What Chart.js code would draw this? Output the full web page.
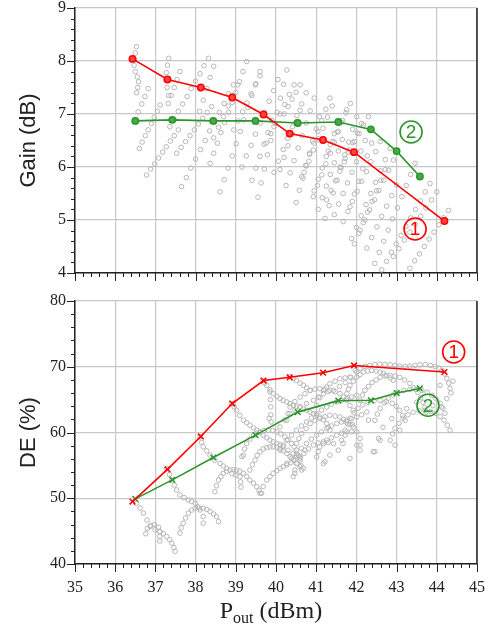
<!DOCTYPE html>
<html>
<head>
<meta charset="utf-8">
<script src="https://cdn.jsdelivr.net/npm/chart.js@4/dist/chart.umd.min.js"></script>
<style>
  body { margin: 0; background: #fff; }
  .box { position: absolute; left: 0; width: 490px; }
</style>
</head>
<body>
<div class="box" style="top:0;height:290px"><canvas id="gainChart" width="490" height="290"></canvas></div>
<div class="box" style="top:290px;height:337px"><canvas id="deChart" width="490" height="337"></canvas></div>
<script>
// matching network (1)
const pout1 = [36.43, 37.30, 38.13, 38.91, 39.69, 40.34, 41.17, 41.94, 44.19];
const gain1 = [8.04, 7.65, 7.50, 7.31, 6.99, 6.63, 6.51, 6.28, 4.98];
const de1 = [49.5, 54.4, 59.4, 64.4, 67.9, 68.4, 69.1, 70.2, 69.2];

// matching network (2)
const pout2 = [36.50, 37.42, 38.44, 39.49, 40.54, 41.55, 42.36, 43.00, 43.58];
const gain2 = [6.87, 6.89, 6.87, 6.87, 6.83, 6.85, 6.71, 6.30, 5.82];
const de2 = [49.9, 52.8, 56.2, 59.6, 63.1, 64.85, 64.9, 66.0, 66.7];

// load-pull sweep, gain vs Pout (each row is one streak of the grey cloud)
const gainCloud = [
  [[36.53,8.27],[36.50,8.15],[36.48,8.03],[36.47,7.92],[36.50,7.80],[36.55,7.70],[36.58,7.61],[36.56,7.50],[36.53,7.40]],
  [[36.49,6.89],[36.57,7.04],[36.66,7.19],[36.74,7.33],[36.82,7.48]],
  [[36.60,6.35],[36.67,6.47],[36.75,6.59],[36.82,6.70],[36.90,6.82],[36.97,6.94],[37.05,7.05],[37.12,7.17]],
  [[36.78,5.85],[36.88,5.96],[36.98,6.06],[37.08,6.17],[37.18,6.28],[37.27,6.38],[37.37,6.49],[37.47,6.59],[37.57,6.70]],
  [[37.33,8.05],[37.30,7.92],[37.27,7.78],[37.26,7.64],[37.29,7.50],[37.33,7.35]],
  [[37.32,7.20],[37.39,7.35],[37.47,7.50],[37.54,7.65],[37.61,7.80]],
  [[37.36,6.76],[37.47,6.90],[37.57,7.05],[37.68,7.19],[37.79,7.33],[37.89,7.48],[38.00,7.62],[38.11,7.76],[38.21,7.91],[38.32,8.05]],
  [[37.53,6.26],[37.64,6.37],[37.75,6.48],[37.86,6.59],[37.97,6.70],[38.07,6.81],[38.18,6.92],[38.29,7.03],[38.40,7.14]],
  [[37.65,5.63],[37.77,5.80],[37.88,5.98],[38.00,6.15],[38.12,6.33],[38.24,6.50],[38.35,6.68],[38.47,6.85],[38.59,7.03],[38.71,7.20],[38.82,7.38],[38.94,7.55]],
  [[38.10,7.05],[38.19,7.26],[38.28,7.48],[38.36,7.69],[38.45,7.90]],
  [[38.36,6.07],[38.45,6.26],[38.54,6.45],[38.63,6.65],[38.72,6.84],[38.82,7.03],[38.91,7.22],[39.00,7.41],[39.09,7.61],[39.18,7.80],[39.27,7.99]],
  [[38.61,5.53],[38.71,5.76],[38.81,5.98],[38.91,6.21],[39.01,6.44],[39.11,6.67],[39.20,6.89],[39.30,7.12],[39.40,7.35],[39.50,7.57],[39.60,7.80]],
  [[38.45,6.55],[38.57,6.75],[38.69,6.95],[38.81,7.15],[38.93,7.35],[39.05,7.55]],
  [[38.95,6.70],[39.06,6.87],[39.17,7.04],[39.28,7.21],[39.38,7.38],[39.49,7.55],[39.60,7.72]],
  [[39.15,6.00],[39.26,6.21],[39.38,6.41],[39.49,6.62],[39.60,6.83],[39.71,7.03],[39.83,7.24],[39.94,7.44],[40.05,7.65]],
  [[39.40,5.75],[39.50,5.98],[39.60,6.20],[39.70,6.43],[39.80,6.65],[39.90,6.88]],
  [[39.55,5.43],[39.63,5.70],[39.71,5.96],[39.79,6.23],[39.87,6.50],[39.95,6.76],[40.03,7.03],[40.11,7.30],[40.19,7.56],[40.27,7.83]],
  [[39.75,6.45],[39.87,6.63],[39.98,6.82],[40.10,7.00],[40.22,7.18],[40.33,7.37],[40.45,7.55]],
  [[39.95,5.90],[40.06,6.11],[40.18,6.33],[40.29,6.54],[40.41,6.76],[40.52,6.97],[40.64,7.19],[40.75,7.40]],
  [[40.10,5.95],[40.20,6.18],[40.30,6.40],[40.40,6.62],[40.50,6.85],[40.60,7.07]],
  [[40.50,5.33],[40.58,5.56],[40.67,5.79],[40.75,6.02],[40.83,6.26],[40.91,6.49],[41.00,6.72],[41.08,6.95]],
  [[40.25,5.65],[40.35,5.89],[40.45,6.12],[40.55,6.36],[40.65,6.59],[40.75,6.83],[40.85,7.06],[40.95,7.30]],
  [[40.20,7.00],[40.30,7.14],[40.40,7.28],[40.50,7.41],[40.60,7.55]],
  [[40.70,5.90],[40.82,6.11],[40.93,6.32],[41.05,6.53],[41.17,6.73],[41.28,6.94],[41.40,7.15]],
  [[40.95,5.55],[41.05,5.77],[41.15,5.98],[41.25,6.20],[41.35,6.42],[41.45,6.63],[41.55,6.85]],
  [[41.05,5.20],[41.15,5.42],[41.25,5.64],[41.35,5.86],[41.45,6.08],[41.55,6.30],[41.65,6.52]],
  [[41.22,5.03],[41.32,5.27],[41.42,5.51],[41.52,5.75],[41.62,5.99],[41.71,6.23],[41.81,6.47],[41.91,6.71],[42.01,6.95]],
  [[40.93,5.44],[41.03,5.65],[41.14,5.85],[41.24,6.06],[41.35,6.26],[41.45,6.47],[41.55,6.67],[41.66,6.88],[41.76,7.08]],
  [[40.64,5.82],[40.74,6.03],[40.84,6.24],[40.94,6.45],[41.04,6.67],[41.14,6.88],[41.24,7.09],[41.34,7.30]],
  [[41.26,5.38],[41.37,5.56],[41.48,5.74],[41.59,5.92],[41.70,6.10],[41.80,6.28],[41.91,6.46],[42.02,6.64],[42.13,6.82]],
  [[41.45,5.10],[41.56,5.30],[41.67,5.50],[41.78,5.70],[41.89,5.90],[42.00,6.10],[42.11,6.30],[42.22,6.50]],
  [[41.30,6.30],[41.41,6.48],[41.52,6.66],[41.63,6.84],[41.74,7.02],[41.85,7.20]],
  [[41.60,6.00],[41.72,6.16],[41.83,6.32],[41.95,6.48],[42.07,6.63],[42.18,6.79],[42.30,6.95]],
  [[41.67,4.97],[41.79,5.16],[41.90,5.35],[42.02,5.54],[42.13,5.73],[42.25,5.91],[42.36,6.10],[42.48,6.29],[42.59,6.48]],
  [[41.88,4.65],[42.00,4.86],[42.12,5.08],[42.24,5.29],[42.36,5.50],[42.48,5.71],[42.60,5.93],[42.72,6.14],[42.84,6.35]],
  [[41.95,4.55],[42.06,4.75],[42.17,4.95],[42.28,5.15],[42.39,5.35],[42.50,5.55],[42.61,5.75],[42.72,5.95]],
  [[42.09,4.81],[42.21,5.00],[42.33,5.19],[42.45,5.38],[42.56,5.56],[42.68,5.75],[42.80,5.94],[42.92,6.13]],
  [[41.84,5.25],[41.95,5.49],[42.06,5.73],[42.16,5.97],[42.27,6.21],[42.38,6.45]],
  [[42.46,4.18],[42.57,4.39],[42.68,4.60],[42.79,4.81],[42.90,5.02],[43.02,5.23],[43.13,5.44],[43.24,5.65],[43.35,5.86],[43.46,6.07]],
  [[42.63,4.06],[42.75,4.22],[42.87,4.39],[42.99,4.55],[43.11,4.71],[43.23,4.88],[43.35,5.04],[43.47,5.20],[43.59,5.36],[43.71,5.53],[43.83,5.69]],
  [[42.92,4.31],[43.06,4.46],[43.19,4.62],[43.33,4.77],[43.46,4.92],[43.60,5.07],[43.73,5.23],[43.87,5.38],[44.00,5.53]],
  [[43.33,4.09],[43.45,4.23],[43.57,4.36],[43.69,4.50],[43.81,4.64],[43.93,4.77],[44.05,4.91],[44.17,5.04],[44.29,5.18]],
  [[42.26,4.47],[42.38,4.67],[42.51,4.87],[42.63,5.07],[42.75,5.26],[42.88,5.46],[43.00,5.66]]
];

// load-pull sweep, drain efficiency vs Pout
const deCloud = [
  [[36.53,49.24],[36.62,48.5],[36.70,47.73],[36.79,46.7],[36.87,45.70],[36.99,45.20],[37.11,44.94],[37.20,44.6],[37.28,44.18],[37.35,43.7],[37.41,43.18],[37.46,42.5],[37.49,41.91]],
  [[36.76,44.6],[36.80,45.4],[36.88,45.9],[36.98,46.0],[37.08,45.6],[37.11,44.9],[37.11,44.2],[37.11,43.5]],
  [[37.28,54.55],[37.35,53.6],[37.41,52.77],[37.47,52.0],[37.53,51.26],[37.61,50.50],[37.71,50.1],[37.82,49.74],[37.90,49.5],[37.99,49.24],[38.05,48.7],[38.11,48.23],[38.19,47.21],[38.19,46.21]],
  [[37.61,44.70],[37.64,45.5],[37.69,46.21],[37.75,47.0],[37.82,47.73],[37.90,48.2],[37.99,48.48],[38.09,48.55],[38.19,48.48],[38.28,48.3],[38.36,47.97],[38.45,47.6],[38.52,47.21],[38.57,46.45]],
  [[38.11,59.33],[38.15,58.5],[38.19,57.82],[38.28,57.2],[38.36,56.56],[38.48,55.80],[38.61,55.30],[38.69,54.9],[38.77,54.55],[38.90,53.79],[39.00,53.5],[39.10,53.27],[39.12,52.5],[39.13,51.7]],
  [[38.48,51.00],[38.52,51.9],[38.57,52.77],[38.63,53.3],[38.69,53.79],[38.77,54.1],[38.86,54.29],[38.94,54.35],[39.02,54.29],[39.10,54.1],[39.19,53.79],[39.27,53.3],[39.35,52.77],[39.44,52.3],[39.52,51.76],[39.58,51.2],[39.64,50.76]],
  [[38.90,64.39],[38.96,63.9],[39.02,63.38],[39.10,62.6],[39.19,61.86],[39.27,61.5],[39.35,61.11],[39.44,60.7],[39.52,60.35],[39.60,60.0],[39.68,59.59],[39.77,59.2],[39.85,58.83],[39.93,58.6],[40.02,58.33],[40.10,58.1],[40.18,57.82],[40.30,57.3],[40.43,56.82],[40.51,56.5],[40.60,56.30]],
  [[39.19,56.56],[39.22,57.5],[39.27,58.33],[39.35,59.0],[39.44,59.59],[39.52,59.9],[39.60,60.09],[39.70,60.3],[39.81,60.35],[39.92,60.3],[40.02,60.09],[40.12,59.8],[40.22,59.33],[40.30,58.9],[40.39,58.33],[40.45,57.8],[40.51,57.32],[40.56,56.5],[40.60,55.80],[40.62,55.0],[40.64,54.29]],
  [[39.35,54.29],[39.41,55.1],[39.48,55.80],[39.53,56.5],[39.60,57.06],[39.68,57.5],[39.77,57.73],[39.85,57.8],[39.93,57.82],[40.02,57.7],[40.10,57.58],[40.18,57.2],[40.27,56.82],[40.35,56.3],[40.43,55.80],[40.51,55.3],[40.60,54.79]],
  [[39.60,50.76],[39.68,51.8],[39.77,52.77],[39.85,53.3],[39.93,53.79],[40.02,54.2],[40.10,54.55],[40.18,54.8],[40.27,55.05],[40.37,55.4],[40.47,55.80]],
  [[39.68,67.92],[39.72,67.5],[39.77,67.17],[39.85,66.5],[39.93,65.91],[40.02,65.5],[40.10,65.15],[40.18,64.9],[40.27,64.64],[40.35,64.4],[40.43,64.14],[40.51,64.0],[40.60,63.88],[40.68,63.6],[40.76,63.38],[40.85,63.1],[40.93,62.88],[41.01,62.6],[41.09,62.36],[41.18,61.9],[41.26,61.36],[41.30,60.8],[41.34,60.35]],
  [[39.85,66.2],[39.86,65.0],[39.87,63.9],[39.87,62.7],[39.88,61.6]],
  [[40.35,68.53],[40.43,68.2],[40.51,67.92],[40.60,67.5],[40.68,67.17],[40.76,66.8],[40.85,66.41]],
  [[40.27,61.86],[40.30,62.9],[40.35,63.88],[40.47,64.7],[40.60,65.39],[40.72,65.9],[40.85,66.41],[40.97,66.6],[41.09,66.67],[41.22,66.6],[41.34,66.41],[41.47,66.2],[41.59,65.91],[41.68,65.4],[41.76,64.89],[41.84,64.1],[41.92,63.38]],
  [[40.51,58.33],[40.57,59.1],[40.64,59.85],[40.75,60.6],[40.85,61.36],[40.97,61.8],[41.09,62.12],[41.22,62.4],[41.34,62.62],[41.47,62.5],[41.59,62.36],[41.68,62.0],[41.76,61.61],[41.84,61.2],[41.92,60.85]],
  [[41.01,56.30],[41.05,57.1],[41.09,57.82],[41.18,58.3],[41.26,58.83],[41.38,59.2],[41.51,59.59],[41.63,59.9],[41.76,60.09],[41.88,60.1],[42.01,60.09]],
  [[41.01,64.14],[41.09,65.3],[41.18,66.41],[41.26,66.9],[41.34,67.42],[41.47,67.8],[41.59,68.18],[41.72,68.3],[41.84,68.42]],
  [[40.10,60.85],[40.22,61.9],[40.35,62.88],[40.47,63.4],[40.60,63.88],[40.76,64.4],[40.93,64.89],[41.05,65.4],[41.18,65.91],[41.30,66.2],[41.43,66.41],[41.58,67.0],[41.72,67.6],[41.86,68.4],[42.01,69.19]],
  [[40.10,57.32],[40.18,58.1],[40.27,58.83],[40.39,59.6],[40.51,60.35],[40.63,61.0],[40.76,61.61],[40.88,62.2],[41.01,62.88],[41.13,63.4],[41.26,63.88],[41.38,64.3],[41.51,64.64],[41.63,64.9],[41.76,65.15],[41.88,65.4],[42.01,65.65]],
  [[40.27,55.30],[40.39,56.1],[40.51,56.82],[40.63,57.6],[40.76,58.33],[40.88,59.0],[41.01,59.59],[41.13,60.1],[41.26,60.61],[41.38,61.0],[41.51,61.36],[41.63,61.6],[41.76,61.86],[41.88,62.1],[42.01,62.36],[42.13,62.7],[42.26,63.12]],
  [[40.43,53.3],[40.47,54.3],[40.52,55.3],[40.60,56.1],[40.69,56.8],[40.81,57.5],[40.93,58.1],[41.05,58.4],[41.18,58.6],[41.30,58.5],[41.43,58.3]],
  [[42.09,64.89],[42.15,65.7],[42.21,66.41],[42.30,67.0],[42.39,67.62],[42.49,68.0],[42.59,68.38],[42.71,68.6],[42.84,68.68],[42.96,68.6],[43.08,68.38],[43.20,68.0],[43.33,67.47],[43.43,66.8],[43.53,66.11],[43.60,65.3],[43.66,64.59],[43.70,63.8],[43.73,63.08]],
  [[42.46,61.86],[42.52,62.8],[42.59,63.68],[42.69,64.5],[42.79,65.20],[42.91,65.7],[43.03,66.11],[43.18,66.4],[43.33,66.56],[43.48,66.55],[43.63,66.41],[43.76,66.1],[43.88,65.65],[43.98,65.1],[44.08,64.44],[44.15,63.7],[44.20,62.93]],
  [[41.72,60.35],[41.78,61.3],[41.84,62.17],[41.94,63.0],[42.04,63.68],[42.16,64.2],[42.29,64.59],[42.44,64.8],[42.59,64.89],[42.74,64.7],[42.89,64.44],[42.99,64.0],[43.08,63.38],[43.15,62.6],[43.21,61.86]],
  [[42.84,58.83],[42.90,59.8],[42.96,60.65],[43.06,61.4],[43.16,62.17],[43.28,62.7],[43.41,63.08],[43.56,63.3],[43.71,63.38],[43.85,63.2],[43.98,62.93],[44.08,62.4],[44.18,61.86],[44.26,61.1],[44.33,60.35]],
  [[41.97,69.44],[42.09,69.8],[42.21,70.05],[42.33,70.2],[42.46,70.35],[42.58,70.4],[42.71,70.35],[42.84,70.3],[42.96,70.20],[43.08,70.1],[43.21,70.05],[43.33,70.1],[43.46,70.20],[43.58,70.3],[43.71,70.35],[43.84,70.2],[43.96,70.05],[44.05,69.8],[44.13,69.44],[44.20,68.9],[44.25,68.23],[44.30,67.5],[44.33,66.71]],
  [[41.76,65.91],[41.80,66.6],[41.84,67.17],[41.92,67.8],[42.01,68.43],[42.09,68.8],[42.17,69.19],[42.28,69.35],[42.38,69.44],[42.49,69.35],[42.59,69.19],[42.67,69.0],[42.75,68.69],[42.84,68.3],[42.92,67.93]],
  [[41.84,56.06],[42.42,57.06],[42.09,58.08],[42.59,58.83],[43.08,60.35],[42.66,60.80],[42.88,62.12],[43.25,63.64],[44.12,63.88],[44.25,65.15],[44.08,67.17],[41.67,58.33],[41.72,59.59],[42.09,59.09],[40.72,57.32],[41.18,55.30],[41.34,56.56],[41.63,58.83],[40.47,53.79],[40.68,54.55],[42.09,57.32],[42.55,59.09],[42.96,58.08],[42.01,58.08],[41.22,55.58],[42.46,57.1],[41.55,57.3],[41.90,61.2],[42.30,61.9],[43.50,64.6],[43.90,64.1],[44.35,66.0],[44.40,67.8],[39.83,62.15],[39.15,56.33]]
];

const toXY = (xs, ys) => xs.map((x, i) => ({ x: x, y: ys[i] }));
const cloudXY = (rows) => rows.flat().map((p) => ({ x: p[0], y: p[1] }));

const RED = "rgb(255,0,0)";
const GREEN = "rgb(44,150,44)";
const GREY = "rgb(182,182,182)";
const GRID = "rgb(200,200,200)";
const INK = "#222";
const SERIF = "'Liberation Serif', 'Times New Roman', serif";
const SANS = "'Liberation Sans', Arial, sans-serif";

// frame, minor ticks, axis titles and the circled series numbers
const decorPlugin = {
  id: "decor",
  afterDraw(chart, args, opts) {
    const { ctx, chartArea: a, scales } = chart;
    const x = scales.x;
    const y = scales.y;
    ctx.save();
    ctx.strokeStyle = INK;
    ctx.lineWidth = 1.5;
    ctx.beginPath();
    ctx.moveTo(a.right, a.top);
    ctx.lineTo(a.right, a.bottom);
    ctx.stroke();

    ctx.lineWidth = 1;
    ctx.beginPath();
    const nx = Math.round((x.max - x.min) / opts.xMinor);
    for (let i = 0; i <= nx; i++) {
      const v = x.min + i * opts.xMinor;
      const major = i % Math.round(opts.xMajor / opts.xMinor) === 0;
      const px = Math.round(x.getPixelForValue(v)) + 0.5;
      ctx.moveTo(px, a.bottom);
      ctx.lineTo(px, a.bottom + (major ? 8 : 4));
    }
    const ny = Math.round((y.max - y.min) / opts.yMinor);
    for (let i = 0; i <= ny; i++) {
      const v = y.min + i * opts.yMinor;
      const major = i % Math.round(opts.yMajor / opts.yMinor) === 0;
      const py = Math.round(y.getPixelForValue(v)) + 0.5;
      ctx.moveTo(a.left, py);
      ctx.lineTo(a.left - (major ? 8 : 4), py);
    }
    ctx.stroke();

    // y title
    ctx.fillStyle = INK;
    ctx.font = "22px " + SANS;
    ctx.textAlign = "center";
    ctx.textBaseline = "middle";
    ctx.save();
    ctx.translate(29, (a.top + a.bottom) / 2);
    ctx.rotate(-Math.PI / 2);
    ctx.fillText(opts.yTitle, 0, 0);
    ctx.restore();

    // x title with subscript
    if (opts.xTitle) {
      const big = "24px " + SERIF;
      const small = "16px " + SERIF;
      ctx.textAlign = "left";
      ctx.textBaseline = "alphabetic";
      ctx.font = big;
      const wP = ctx.measureText("P").width;
      const wRest = ctx.measureText(" (dBm)").width;
      ctx.font = small;
      const wSub = ctx.measureText("out").width;
      let cx = 271 - (wP + wSub + wRest) / 2;
      const base = 328;
      ctx.font = big;
      ctx.fillText("P", cx, base);
      cx += wP;
      ctx.font = small;
      ctx.fillText("out", cx, base + 5);
      cx += wSub;
      ctx.font = big;
      ctx.fillText(" (dBm)", cx, base);
    }

    // circled labels
    opts.marks.forEach((m) => {
      const cx = x.getPixelForValue(m.x);
      const cy = y.getPixelForValue(m.y);
      ctx.strokeStyle = m.color;
      ctx.fillStyle = m.color;
      ctx.lineWidth = 1.6;
      ctx.beginPath();
      ctx.arc(cx, cy, 11, 0, Math.PI * 2);
      ctx.stroke();
      ctx.font = "19px " + SANS;
      ctx.textAlign = "center";
      ctx.textBaseline = "middle";
      ctx.fillText(m.text, cx, cy + 1);
    });
    ctx.restore();
  },
};

function axisOptions(min, max, step, fit, showTicks, tickPad) {
  return {
    type: "linear",
    min: min,
    max: max,
    ticks: {
      stepSize: step,
      display: showTicks,
      padding: tickPad,
      color: INK,
      font: { family: SERIF, size: 16 },
    },
    grid: { color: GRID, lineWidth: 1.2, drawTicks: false },
    border: { color: INK, width: 1.5 },
    afterFit: fit,
  };
}

function makeChart(canvasId, ys1, ys2, cloud, cfg) {
  const ctx = document.getElementById(canvasId).getContext("2d");
  return new Chart(ctx, {
    type: "scatter",
    data: {
      datasets: [
        {
          data: toXY(pout1, ys1),
          showLine: true,
          borderColor: RED,
          borderWidth: 1.6,
          pointStyle: cfg.pointStyle,
          pointRadius: cfg.pointRadius,
          pointBorderWidth: 1.5,
          pointBorderColor: RED,
          pointBackgroundColor: "rgb(255,70,70)",
          order: 1,
        },
        {
          data: toXY(pout2, ys2),
          showLine: true,
          borderColor: GREEN,
          borderWidth: 1.6,
          pointStyle: cfg.pointStyle,
          pointRadius: cfg.pointRadius,
          pointBorderWidth: 1.5,
          pointBorderColor: GREEN,
          pointBackgroundColor: "rgb(70,170,70)",
          order: 2,
        },
        {
          data: cloudXY(cloud),
          pointStyle: "circle",
          pointRadius: 2.3,
          pointBorderWidth: 1,
          pointBorderColor: GREY,
          pointBackgroundColor: "rgba(255,255,255,0)",
          order: 3,
        },
      ],
    },
    options: {
      responsive: false,
      animation: false,
      devicePixelRatio: 1,
      layout: { padding: cfg.padding },
      plugins: {
        legend: { display: false },
        tooltip: { enabled: false },
        decor: cfg.decor,
      },
      scales: {
        x: axisOptions(35, 45, 1, (s) => {
          s.height = cfg.xHeight;
          s.paddingLeft = 0;
          s.paddingRight = 0;
        }, cfg.xLabels, 14),
        y: axisOptions(cfg.yMin, cfg.yMax, cfg.yStep, (s) => {
          s.width = 75;
          s.paddingTop = 0;
          s.paddingBottom = 0;
        }, true, 9),
      },
    },
    plugins: [decorPlugin],
  });
}

makeChart("gainChart", gain1, gain2, gainCloud, {
  pointStyle: "circle",
  pointRadius: 3.2,
  padding: { top: 8, right: 13, left: 0, bottom: 0 },
  xHeight: 17,
  xLabels: false,
  yMin: 4,
  yMax: 9,
  yStep: 1,
  decor: {
    xMinor: 0.2, xMajor: 1, yMinor: 0.2, yMajor: 1,
    yTitle: "Gain (dB)",
    xTitle: false,
    marks: [
      { x: 43.46, y: 4.83, text: "1", color: RED },
      { x: 43.36, y: 6.66, text: "2", color: GREEN },
    ],
  },
});

makeChart("deChart", de1, de2, deCloud, {
  pointStyle: "crossRot",
  pointRadius: 4,
  padding: { top: 11, right: 13, left: 0, bottom: 0 },
  xHeight: 63,
  xLabels: true,
  yMin: 40,
  yMax: 80,
  yStep: 10,
  decor: {
    xMinor: 0.2, xMajor: 1, yMinor: 2, yMajor: 10,
    yTitle: "DE (%)",
    xTitle: true,
    marks: [
      { x: 44.42, y: 72.24, text: "1", color: RED },
      { x: 43.78, y: 64.14, text: "2", color: GREEN },
    ],
  },
});
</script>
</body>
</html>
